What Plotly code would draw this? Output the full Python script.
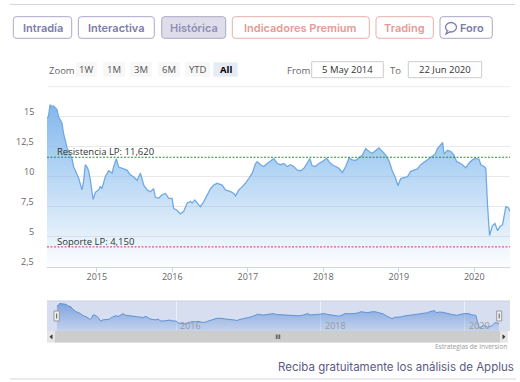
import plotly.graph_objects as go

# ---------------- data ----------------
dates = [
    "2014-05-05", "2014-05-12", "2014-05-20", "2014-05-27", "2014-06-06", "2014-06-22",
    "2014-06-30", "2014-07-16", "2014-07-24", "2014-08-10", "2014-08-26", "2014-09-03",
    "2014-09-11", "2014-09-24", "2014-10-05", "2014-10-21", "2014-10-29", "2014-11-06",
    "2014-11-15", "2014-11-22", "2014-12-01", "2014-12-14", "2014-12-25", "2015-01-10",
    "2015-01-18", "2015-01-26", "2015-02-11", "2015-02-27", "2015-03-16", "2015-03-23",
    "2015-04-05", "2015-04-17", "2015-05-03", "2015-05-27", "2015-06-12", "2015-06-28",
    "2015-07-15", "2015-07-31", "2015-08-16", "2015-09-01", "2015-09-17", "2015-10-03",
    "2015-10-11", "2015-10-27", "2015-11-13", "2015-11-29", "2015-12-15", "2015-12-31",
    "2016-01-08", "2016-01-24", "2016-02-09", "2016-02-25", "2016-03-13", "2016-03-29",
    "2016-04-06", "2016-04-19", "2016-05-08", "2016-05-16", "2016-06-01", "2016-06-18",
    "2016-07-04", "2016-07-20", "2016-08-05", "2016-08-29", "2016-09-14", "2016-10-09",
    "2016-10-25", "2016-11-02", "2016-11-18", "2016-12-04", "2016-12-20", "2017-01-05",
    "2017-01-22", "2017-02-07", "2017-02-15", "2017-03-03", "2017-03-19", "2017-04-04",
    "2017-04-20", "2017-05-06", "2017-05-23", "2017-06-08", "2017-06-24", "2017-07-10",
    "2017-07-26", "2017-08-11", "2017-08-28", "2017-09-13", "2017-09-29", "2017-10-15",
    "2017-10-28", "2017-11-08", "2017-11-24", "2017-12-10", "2017-12-27", "2018-01-17",
    "2018-01-28", "2018-02-13", "2018-03-01", "2018-03-17", "2018-04-03", "2018-04-19",
    "2018-05-05", "2018-05-21", "2018-06-06", "2018-06-22", "2018-07-09", "2018-07-25",
    "2018-08-10", "2018-08-26", "2018-09-11", "2018-09-27", "2018-10-14", "2018-10-30",
    "2018-11-15", "2018-12-01", "2018-12-17", "2018-12-28", "2019-01-10", "2019-01-26",
    "2019-02-12", "2019-02-28", "2019-03-16", "2019-04-01", "2019-04-17", "2019-05-03",
    "2019-05-20", "2019-06-05", "2019-06-26", "2019-07-07", "2019-07-20", "2019-08-01",
    "2019-08-08", "2019-08-25", "2019-09-10", "2019-09-25", "2019-10-08", "2019-10-28",
    "2019-11-21", "2019-12-07", "2019-12-23", "2020-01-08", "2020-01-24", "2020-02-02",
    "2020-02-18", "2020-02-26", "2020-03-05", "2020-03-15", "2020-03-29", "2020-04-10",
    "2020-04-23", "2020-05-05", "2020-05-17", "2020-06-02", "2020-06-15", "2020-06-22",
]
prices = [
    14.9, 15.0, 16.0, 15.85, 15.9, 15.6,
    15.0, 14.5, 13.6, 12.4, 11.8, 11.5,
    10.8, 10.3, 9.9, 8.9, 9.6, 11.0,
    10.8, 10.5, 9.7, 8.1, 8.7, 8.9,
    9.2, 9.0, 10.0, 10.5, 10.3, 10.8,
    11.5, 10.8, 10.7, 10.55, 10.15, 10.0,
    9.7, 10.3, 9.3, 8.9, 8.75, 9.0,
    8.3, 8.2, 8.5, 8.6, 8.2, 8.2,
    7.35, 7.2, 6.9, 7.1, 7.8, 7.95,
    7.8, 8.05, 7.65, 7.5, 7.9, 8.5,
    9.0, 9.3, 9.45, 9.3, 8.9, 8.75,
    8.6, 8.4, 8.9, 9.15, 9.45, 9.85,
    10.3, 11.1, 11.25, 11.0, 10.85, 11.1,
    11.3, 11.5, 11.1, 11.0, 11.1, 10.85,
    11.0, 10.85, 10.55, 10.5, 10.7, 11.1,
    11.5, 10.9, 10.85, 11.1, 11.25, 11.55,
    11.25, 11.0, 10.85, 10.7, 10.35, 10.85,
    11.55, 11.4, 11.35, 11.55, 11.8, 12.35,
    12.1, 11.95, 12.2, 12.4, 12.1, 11.8,
    11.3, 10.45, 9.85, 9.25, 9.85, 9.9,
    10.0, 10.45, 10.55, 10.65, 11.0, 11.2,
    11.4, 11.6, 11.9, 12.35, 12.65, 12.85,
    11.9, 12.2, 12.1, 11.8, 11.25, 11.1,
    10.75, 11.15, 11.4, 11.55, 11.45, 11.0,
    10.85, 10.7, 7.7, 5.1, 5.9, 6.1,
    5.5, 5.85, 6.0, 7.5, 7.4, 7.1,
]

resist_level = 11.62
support_level = 4.15

y_tickvals = [2.5, 5, 7.5, 10, 12.5, 15]
y_ticktext = ["2,5", "5", "7,5", "10", "12,5", "15"]
x_tickvals = ["2015-01-01", "2016-01-01", "2017-01-01", "2018-01-01", "2019-01-01", "2020-01-01"]
x_ticktext = ["2015", "2016", "2017", "2018", "2019", "2020"]
nav_tickvals = ["2016-01-01", "2018-01-01", "2020-01-01"]
nav_ticktext = ["2016", "2018", "2020"]

tab_labels = ["Intradía", "Interactiva", "Histórica", "Indicadores Premium", "Trading", "Foro"]
zoom_labels = ["1W", "1M", "3M", "6M", "YTD", "All"]
from_date_text = "5 May 2014"
to_date_text = "22 Jun 2020"

# ---------------- geometry helpers ----------------
W, H = 520, 382


def px(x):
    return x / W


def py(y):
    return 1 - y / H


def rrect(x0, y0, x1, y1, r, fill, line):
    rx, ry = r / W, r / H
    X0, X1, Yt, Yb = px(x0), px(x1), py(y0), py(y1)
    path = (f"M{X0+rx},{Yt} L{X1-rx},{Yt} Q{X1},{Yt} {X1},{Yt-ry} "
            f"L{X1},{Yb+ry} Q{X1},{Yb} {X1-rx},{Yb} L{X0+rx},{Yb} "
            f"Q{X0},{Yb} {X0},{Yb+ry} L{X0},{Yt-ry} Q{X0},{Yt} {X0+rx},{Yt} Z")
    return dict(type="path", path=path, xref="paper", yref="paper",
                fillcolor=fill, line=dict(color=line, width=1), layer="below")


def rect(x0, y0, x1, y1, fill, line=None, width=1, layer="below"):
    return dict(type="rect", xref="paper", yref="paper",
                x0=px(x0), x1=px(x1), y0=py(y1), y1=py(y0),
                fillcolor=fill, line=dict(color=line or "rgba(0,0,0,0)", width=width if line else 0),
                layer=layer)


def hline(x0, x1, y, color, width=1, dash="solid", layer="below"):
    return dict(type="line", xref="paper", yref="paper", x0=px(x0), x1=px(x1),
                y0=py(y), y1=py(y), line=dict(color=color, width=width, dash=dash), layer=layer)


def text(x, y, s, size, color, xanchor="center", family="Open Sans", weight=None):
    f = dict(size=size, color=color, family=family)
    if weight:
        f["weight"] = weight
    return dict(x=px(x), y=py(y), xref="paper", yref="paper", text=s, showarrow=False,
                xanchor=xanchor, yanchor="middle", font=f)


shapes = []
annotations = []

# top & bottom separator lines
shapes.append(hline(10, 515, 4.5, "#d4d4de"))
shapes.append(hline(10, 516, 379, "#d4d4de"))

# tab buttons
tab_boxes = [(13.3, 71.7), (78.3, 154.3), (161.7, 225.7), (232.3, 369.3), (376, 433.3), (440, 492.3)]
tab_styles = [
    ("white", "#a9a8c8", "#7c7baa"),
    ("white", "#a9a8c8", "#7c7baa"),
    ("#dedde9", "#a9a8c8", "#8f8eb6"),
    ("white", "#e6b0ac", "#e39b96"),
    ("white", "#e6b0ac", "#e39b96"),
    ("white", "#a9a8c8", "#7c7baa"),
]
for (x0, x1), lab, (fill, border, tcol) in zip(tab_boxes, tab_labels, tab_styles):
    shapes.append(rrect(x0, 16.7, x1, 38.3, 3, fill, border))
    cx = (x0 + x1) / 2
    if lab == "Foro":
        cx = 472
    annotations.append(text(cx, 27.8, lab, 11, tcol, family="Inter", weight=600))
# chat icon for Foro
shapes.append(dict(type="circle", xref="paper", yref="paper", x0=px(445.5), x1=px(456.5),
                   y0=py(32), y1=py(22.5), line=dict(color="#7c7baa", width=1.3),
                   fillcolor="rgba(0,0,0,0)"))
shapes.append(dict(type="path", xref="paper", yref="paper",
                   path=f"M{px(447.5)},{py(30.5)} L{px(446)},{py(34)} L{px(450)},{py(31.8)}",
                   line=dict(color="#7c7baa", width=1.3), fillcolor="white"))

# zoom row
annotations.append(text(47.3, 70, "Zoom", 9.5, "#666666", xanchor="left"))
zoom_boxes = [(76, 96.7), (103.3, 125), (130, 151.7), (158.3, 180), (185, 210), (213.3, 237.7)]
for (x0, x1), lab in zip(zoom_boxes, zoom_labels):
    sel = lab == "All"
    shapes.append(rect(x0, 62.3, x1, 76.7, "#e6ebf5" if sel else "#f7f7f7"))
    annotations.append(text((x0 + x1) / 2, 69.8, f"<b>{lab}</b>" if sel else lab, 9.5,
                            "#000000" if sel else "#555555"))
annotations.append(text(285, 70, "From", 9.5, "#666666", xanchor="left"))
shapes.append(rect(311.7, 61.7, 383.3, 77.7, "white", "#cccccc"))
annotations.append(text(347.5, 69.8, from_date_text, 9.5, "#333333"))
annotations.append(text(388, 70, "To", 9.5, "#666666", xanchor="left"))
shapes.append(rect(408.3, 61.7, 481.7, 77.7, "white", "#cccccc"))
annotations.append(text(445, 69.8, to_date_text, 9.5, "#333333"))
shapes.append(hline(48, 510, 86.7, "#ececec"))

# y-axis labels (Highstock style: sitting just above each gridline)
for v, t in zip(y_tickvals, y_ticktext):
    annotations.append(dict(x=px(35.5), y=v, xref="paper", yref="y", text=t, showarrow=False,
                            xanchor="right", yanchor="middle", yshift=5,
                            font=dict(size=9, color="#666666", family="Open Sans")))
# navigator labels (left-aligned just right of their gridline)
for d, t in zip(nav_tickvals, nav_ticktext):
    annotations.append(dict(x=d, y=py(325.5), xref="x2", yref="paper", text=t, showarrow=False,
                            xanchor="left", yanchor="middle", xshift=2,
                            font=dict(size=9, color="#9a9a9a", family="Open Sans")))

# support / resistance lines
shapes.append(dict(type="line", xref="paper", yref="y", x0=px(47), x1=px(510),
                   y0=resist_level, y1=resist_level,
                   line=dict(color="#2d8a36", width=1, dash="2px,1.5px"), layer="above"))
shapes.append(dict(type="line", xref="paper", yref="y", x0=px(47), x1=px(510),
                   y0=support_level, y1=support_level,
                   line=dict(color="#d8365f", width=1, dash="2px,1.5px"), layer="above"))


def fmt(v):
    return f"{v:.3f}".replace(".", ",")


annotations.append(dict(x=px(54.5), y=resist_level, xref="paper", yref="y",
                        text=f"Resistencia LP: {fmt(resist_level)}", showarrow=False,
                        xanchor="left", yanchor="bottom", yshift=-3,
                        font=dict(size=9.5, color="#333333", family="Open Sans")))
annotations.append(dict(x=px(54.5), y=support_level, xref="paper", yref="y",
                        text=f"Soporte LP: {fmt(support_level)}", showarrow=False,
                        xanchor="left", yanchor="bottom", yshift=-3,
                        font=dict(size=9.5, color="#333333", family="Open Sans")))

# navigator background / mask
shapes.append(rect(47, 301, 510, 331, "#d6def0"))
shapes.append(hline(47, 510, 301, "#c9cfdf"))
# navigator handles
for hx0, hx1 in [(54, 59.3), (496.7, 501.7)]:
    shapes.append(rect(hx0, 311, hx1, 321, "#f2f2f2", "#999999", layer="above"))
    cx = (hx0 + hx1) / 2
    shapes.append(dict(type="line", xref="paper", yref="paper", x0=px(cx), x1=px(cx),
                       y0=py(313.5), y1=py(318.5), line=dict(color="#333333", width=0.8),
                       layer="above"))
# scrollbar
shapes.append(rect(47, 331, 508, 342.5, "#f2f2f2"))
shapes.append(rect(55, 331, 500, 342.5, "#cdcdcd"))
shapes.append(rect(47, 331, 55, 342.5, "#e6e6e6"))
shapes.append(rect(500, 331, 508, 342.5, "#e6e6e6"))
shapes.append(dict(type="path", xref="paper", yref="paper",
                   path=f"M{px(52.2)},{py(334.8)} L{px(49.8)},{py(336.8)} L{px(52.2)},{py(338.8)} Z",
                   fillcolor="#333333", line=dict(color="#333333", width=0.5), layer="above"))
shapes.append(dict(type="path", xref="paper", yref="paper",
                   path=f"M{px(502.8)},{py(334.8)} L{px(505.2)},{py(336.8)} L{px(502.8)},{py(338.8)} Z",
                   fillcolor="#333333", line=dict(color="#333333", width=0.5), layer="above"))
for gx in [276.3, 278, 279.7]:
    shapes.append(dict(type="line", xref="paper", yref="paper", x0=px(gx), x1=px(gx),
                       y0=py(334.5), y1=py(339), line=dict(color="#333333", width=0.8),
                       layer="above"))

annotations.append(text(509, 346.5, "Estrategias de Inversion", 6.5, "#999999", xanchor="right"))
annotations.append(text(516, 367, "Reciba gratuitamente los análisis de Applus", 11.5,
                        "#5a5a85", xanchor="right", family="Inter"))

# ---------------- figure ----------------
fig = go.Figure()
fig.add_trace(go.Scatter(
    x=dates, y=prices, mode="lines", xaxis="x", yaxis="y",
    line=dict(color="#72a9e2", width=1.3),
    fill="tozeroy",
    fillgradient=dict(type="vertical", start=2.5, stop=16.6,
                      colorscale=[[0, "rgba(124,181,236,0.02)"], [1, "rgba(124,181,236,1)"]]),
    hoverinfo="skip", showlegend=False,
))
fig.add_trace(go.Scatter(
    x=dates, y=prices, mode="lines", xaxis="x2", yaxis="y2",
    line=dict(color="#5e92d6", width=1),
    fill="tozeroy",
    fillgradient=dict(type="vertical", start=3.76, stop=17.1,
                      colorscale=[[0, "rgba(90,140,215,0.15)"], [1, "rgba(90,140,215,0.75)"]]),
    hoverinfo="skip", showlegend=False,
))

fig.update_layout(
    width=W, height=H,
    autosize=False,
    margin=dict(l=0, r=0, t=0, b=0, autoexpand=False),
    paper_bgcolor="white", plot_bgcolor="rgba(0,0,0,0)",
    showlegend=False,
    font=dict(family="Open Sans", color="#666666"),
    xaxis=dict(domain=[px(47), px(510)], range=[dates[0], dates[-1]],
               tickvals=x_tickvals, ticktext=x_ticktext, showgrid=False,
               ticks="outside", ticklen=4, tickcolor="#ccd6eb",
               showline=True, linecolor="#ccd6eb", linewidth=1,
               ticklabelstandoff=-3, automargin=False,
               tickfont=dict(size=9, color="#666666"), anchor="y", fixedrange=True),
    yaxis=dict(domain=[py(266.7), py(97.5)], range=[2.5, 16.6],
               tickvals=y_tickvals, showticklabels=False, showgrid=True,
               gridcolor="#e9e9e9", gridwidth=1, zeroline=False, automargin=False,
               anchor="x", fixedrange=True),
    xaxis2=dict(domain=[px(56.7), px(499)], range=[dates[0], dates[-1]],
                tickvals=nav_tickvals, showticklabels=False, showgrid=True,
                gridcolor="rgba(255,255,255,0.55)", ticks="", showline=False,
                automargin=False, anchor="y2", fixedrange=True),
    yaxis2=dict(domain=[py(331), py(301)], range=[3.76, 17.1], visible=False,
                automargin=False, anchor="x2", fixedrange=True),
    shapes=shapes,
    annotations=annotations,
)

css_js = (
    "var s=document.createElement('style');"
    "s.textContent='html,body{margin:0;padding:0;overflow:hidden;}';"
    "document.head.appendChild(s);"
)
fig.write_html("out.html", config={"displayModeBar": False}, post_script=css_js)
